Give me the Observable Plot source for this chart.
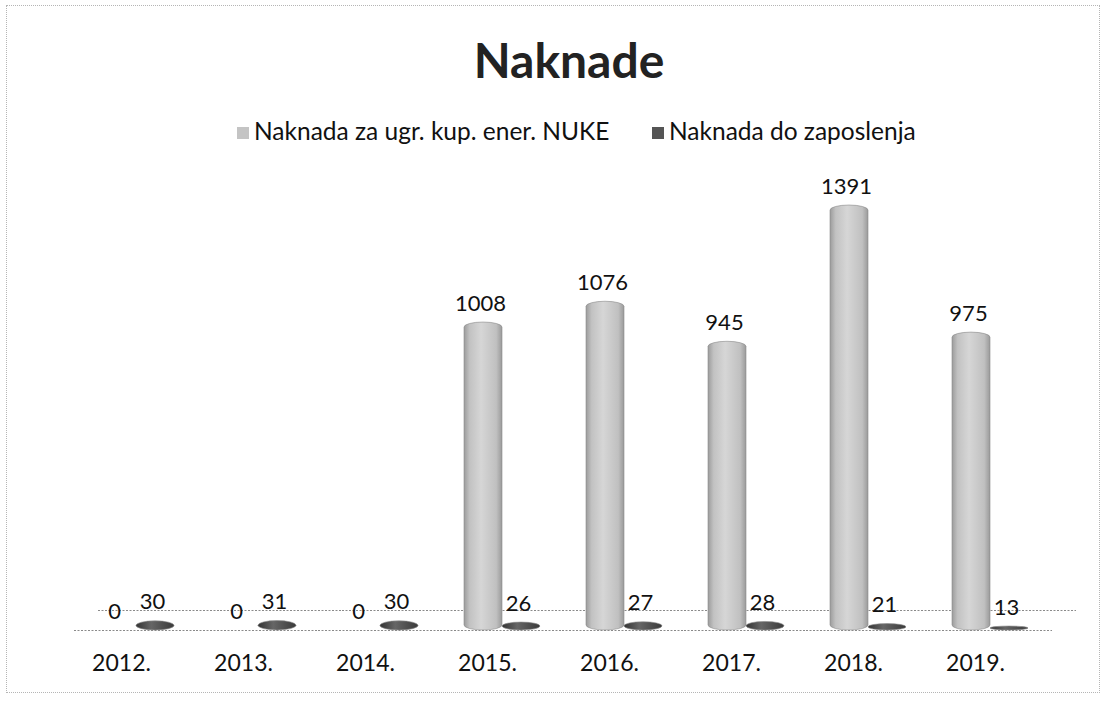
<!DOCTYPE html>
<html>
<head>
<meta charset="utf-8">
<script src="https://cdn.jsdelivr.net/npm/d3@7"></script>
<script src="https://cdn.jsdelivr.net/npm/@observablehq/plot@0.6"></script>
<style>
  html, body { margin: 0; padding: 0; background: #fff; }
  body { width: 1110px; height: 702px; position: relative; overflow: hidden; font-family: Lato, "DejaVu Sans", sans-serif; color: #111; }
  #frame { position: absolute; left: 6px; top: 5px; width: 1094px; height: 688px; border: 1px dotted #b5b5b5; box-sizing: border-box; }
  #title { position: absolute; left: 0; width: 1138px; top: 36px; text-align: center; font-size: 48px; font-weight: 700; line-height: 1; color: #222; }
  .leg { position: absolute; top: 119px; font-size: 24.5px; line-height: 1; white-space: nowrap; }
  .sw { display: inline-block; width: 12px; height: 12px; margin-right: 5px; vertical-align: 1px; }
  #chart { position: absolute; left: 0; top: 160px; }
  #defs { position: absolute; width: 0; height: 0; }
</style>
</head>
<body>
<svg id="defs" width="0" height="0">
  <defs>
    <linearGradient id="gLight" x1="0" x2="1" y1="0" y2="0">
      <stop offset="0" stop-color="#9c9c9c"/>
      <stop offset="0.15" stop-color="#c2c2c2"/>
      <stop offset="0.45" stop-color="#d6d6d6"/>
      <stop offset="0.85" stop-color="#c0c0c0"/>
      <stop offset="1" stop-color="#9a9a9a"/>
    </linearGradient>
    <linearGradient id="gDark" x1="0" x2="1" y1="0" y2="0">
      <stop offset="0" stop-color="#333"/>
      <stop offset="0.4" stop-color="#666"/>
      <stop offset="1" stop-color="#3a3a3a"/>
    </linearGradient>
  </defs>
</svg>
<div id="frame"></div>
<div id="title">Naknade</div>
<div class="leg" style="left:237px"><span class="sw" style="background:#c4c4c4"></span>Naknada za ugr. kup. ener. NUKE</div>
<div class="leg" style="left:652px"><span class="sw" style="background:#555"></span>Naknada do zaposlenja</div>
<div id="chart"></div>
<script>
const years = ["2012.", "2013.", "2014.", "2015.", "2016.", "2017.", "2018.", "2019."];
const series = ["Naknada za ugr. kup. ener. NUKE", "Naknada do zaposlenja"];
const nuke = [0, 0, 0, 1008, 1076, 945, 1391, 975];
const zaposlenja = [30, 31, 30, 26, 27, 28, 21, 13];

const data = years.flatMap((year, i) => [
  {year, series: series[0], value: nuke[i]},
  {year, series: series[1], value: zaposlenja[i]}
]);

const chart = Plot.plot({
  width: 1110,
  height: 530,
  marginLeft: 95,
  marginRight: 78.5,
  marginTop: 27,
  marginBottom: 60,
  style: {fontFamily: "Lato, 'DejaVu Sans', sans-serif", background: "transparent", color: "#111"},
  fx: {domain: years, paddingInner: 0.38, paddingOuter: 0, label: null, axis: null},
  x: {domain: series, padding: 0, axis: null},
  y: {domain: [0, 1450], axis: null},
  color: {domain: series, range: ["url(#gLight)", "url(#gDark)"]},
  marks: [
    Plot.ruleY([0], {stroke: "#8a8a8a", strokeDasharray: "2,1.5", insetLeft: -24, insetRight: -24, dy: -20, dx: 24}),
    Plot.ruleY([0], {stroke: "#8a8a8a", strokeDasharray: "2,1.5", insetLeft: -24, insetRight: -24}),
    Plot.barY(data, {fx: "year", x: "series", y: "value", fill: "series", rx: 19, ry: 5, stroke: "#8c8c8c", strokeWidth: 0.6}),
    Plot.text(data, {fx: "year", x: "series", y: "value", text: d => String(d.value), lineAnchor: "bottom", dy: -12, dx: -3, fontSize: 22, fill: "#111"}),
    Plot.axisFx({anchor: "bottom", tickSize: 0, tickPadding: 24, fontSize: 23, dx: -15, label: null})
  ]
});
document.getElementById("chart").appendChild(chart);
</script>
</body>
</html>
